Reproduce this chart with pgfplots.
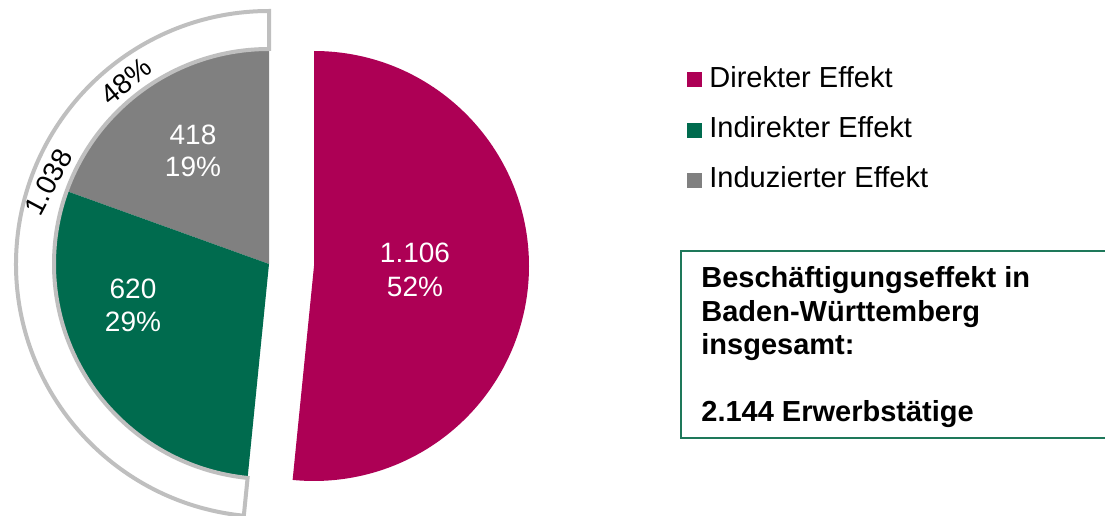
\documentclass[border=0pt]{standalone}
\usepackage{fontspec}
\setmainfont{Liberation Sans}
\usepackage{pgfplots}
\usepackage{pgfplotstable}
\pgfplotsset{compat=1.18}
\definecolor{mag}{RGB}{173,0,85}
\definecolor{grn}{RGB}{0,107,78}
\definecolor{gry}{RGB}{128,128,128}
\definecolor{ring}{RGB}{191,191,191}
\definecolor{boxgrn}{RGB}{30,120,90}

\pgfplotstableread{
effekt value
Direkt 1106
Indirekt 620
Induziert 418
}\piedata
\pgfplotstablegetelem{0}{value}\of\piedata \let\vA\pgfplotsretval
\pgfplotstablegetelem{1}{value}\of\piedata \let\vB\pgfplotsretval
\pgfplotstablegetelem{2}{value}\of\piedata \let\vC\pgfplotsretval
\pgfmathsetmacro{\tot}{\vA+\vB+\vC}
\pgfmathsetmacro{\aA}{360*(\vA/\tot)}
\pgfmathsetmacro{\aB}{360*(\vB/\tot)}
\pgfmathsetmacro{\aC}{360*(\vC/\tot)}
% angles
\pgfmathsetmacro{\magEnd}{90-\aA}
\pgfmathsetmacro{\gryEnd}{90+\aC}
\pgfmathsetmacro{\grnEnd}{90+\aC+\aB}

\begin{document}
\begin{tikzpicture}
\begin{axis}[
  x=0.5pt, y=0.5pt,
  xmin=0, xmax=1105, ymin=0, ymax=515,
  hide axis, clip=false, scale only axis,
]
\coordinate (SW) at (rel axis cs:0,0);
\coordinate (NE) at (rel axis cs:1,1);
% direct effect (exploded)
\fill[mag] (axis cs:314,249) -- ++(90:107.5pt) arc[start angle=90, end angle=\magEnd, radius=107.5pt] -- cycle;
% induced
\fill[gry] (axis cs:269,251) -- ++(90:107.5pt) arc[start angle=90, end angle=\gryEnd, radius=107.5pt] -- cycle;
% indirect
\fill[grn] (axis cs:269,251) -- ++(\gryEnd:107.5pt) arc[start angle=\gryEnd, end angle=\grnEnd, radius=107.5pt] -- cycle;
% ring
\draw[ring, line width=2pt, fill=white, line join=miter]
  (axis cs:269,251) ++(90:107.5pt) arc[start angle=90, end angle=\grnEnd, radius=107.5pt]
  -- ++(\grnEnd:19pt) arc[start angle=\grnEnd, end angle=90, radius=126.5pt] -- cycle;
% labels in slices
\tikzset{lab/.style={white, anchor=base, inner sep=0pt, font=\fontsize{14}{16}\selectfont}}
\node[lab] at (axis cs:415,252) {1.106};
\node[lab] at (axis cs:415,218) {52\%};
\node[lab] at (axis cs:193,370) {418};
\node[lab] at (axis cs:193,338) {19\%};
\node[lab] at (axis cs:133,216.5) {620};
\node[lab] at (axis cs:133,183.5) {29\%};
% ring labels
\node[black, rotate=62, inner sep=0pt, font=\fontsize{14}{16}\selectfont] at (axis cs:48.5,333) {1.038};
\node[black, rotate=39, inner sep=0pt, font=\fontsize{14}{16}\selectfont] at (axis cs:126,434) {48\%};
% legend
\fill[mag] (axis cs:687,427.5) rectangle (axis cs:702,442.5);
\fill[grn] (axis cs:687,377) rectangle (axis cs:702,392);
\fill[gry] (axis cs:687,327) rectangle (axis cs:702,342);
\tikzset{leg/.style={anchor=base west, inner sep=0pt, font=\fontsize{14.5}{16}\selectfont}}
\node[leg] at (axis cs:709,427) {Direkter Effekt};
\node[leg] at (axis cs:709,377) {Indirekter Effekt};
\node[leg] at (axis cs:709,327) {Induzierter Effekt};
% total box
\draw[boxgrn, line width=1pt] (axis cs:681,264) rectangle (axis cs:1110,77);
\tikzset{bx/.style={anchor=base west, inner sep=0pt, font=\bfseries\fontsize{14.5}{16}\selectfont}}
\node[bx] at (axis cs:701,227) {Beschäftigungseffekt in};
\node[bx] at (axis cs:701,193) {Baden-Württemberg};
\node[bx] at (axis cs:701,160) {insgesamt:};
\node[bx] at (axis cs:701,93) {2.144 Erwerbstätige};
\end{axis}
\pgfresetboundingbox
\useasboundingbox (SW) rectangle (NE);
\end{tikzpicture}
\end{document}
